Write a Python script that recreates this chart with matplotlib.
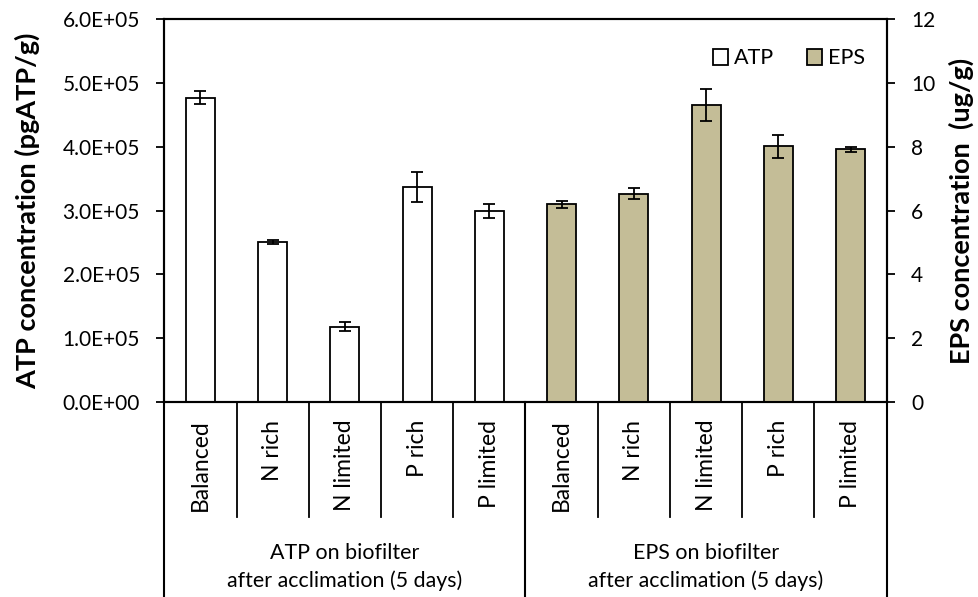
import numpy as np
import matplotlib
matplotlib.use("Agg")
import matplotlib.pyplot as plt
from matplotlib.ticker import FuncFormatter, MultipleLocator
import matplotlib.transforms as mtransforms

plt.rcParams['font.family'] = ['Lato', 'DejaVu Sans']

# data
conditions = ['Balanced', 'N rich', 'N limited', 'P rich', 'P limited']
atp = [4.77e5, 2.51e5, 1.18e5, 3.37e5, 2.99e5]
atp_err = [1.0e4, 3.0e3, 7.0e3, 2.4e4, 1.15e4]
eps = [6.19, 6.53, 9.31, 8.01, 7.92]
eps_err = [0.12, 0.18, 0.49, 0.36, 0.07]
groups = ['ATP on biofilter\nafter acclimation (5 days)',
          'EPS on biofilter\nafter acclimation (5 days)']

x_atp = np.arange(5)
x_eps = np.arange(5, 10)

fig = plt.figure(figsize=(9.79, 5.97), dpi=100)
ax = fig.add_axes([0.1678, 0.3271, 0.7379, 0.6406])
ax2 = ax.twinx()

err_kw = dict(ecolor='black', elinewidth=1.3, capsize=4.5, capthick=1.3)
b1 = ax.bar(x_atp, atp, 0.4, yerr=atp_err, color='white', edgecolor='black',
            linewidth=1.3, error_kw=err_kw, label='ATP')
b2 = ax2.bar(x_eps, eps, 0.4, yerr=eps_err, color='#C4BD97', edgecolor='black',
             linewidth=1.3, error_kw=err_kw, label='EPS')

ax.set_xlim(-0.5, 9.5)
ax.set_ylim(0, 6e5)
ax2.set_ylim(0, 12)
ax.yaxis.set_major_locator(MultipleLocator(1e5))
ax.yaxis.set_major_formatter(FuncFormatter(lambda v, p: f"{v:.1E}"))
ax2.yaxis.set_major_locator(MultipleLocator(2))
ax.set_xticks([])

for a in (ax, ax2):
    a.tick_params(axis='y', direction='out', length=5.5, width=1.3,
                  labelsize=15, pad=12)
    for s in a.spines.values():
        s.set_linewidth(1.5)

ax.set_ylabel('ATP concentration (pgATP/g)', fontsize=19.5, fontweight='bold',
              labelpad=16)
ax2.set_ylabel('EPS concentration  (ug/g)', fontsize=19.5, fontweight='bold',
               labelpad=10)

# category table below the axis
trans = mtransforms.blended_transform_factory(ax.transData, ax.transAxes)
for i, name in enumerate(conditions + conditions):
    ax.text(i, -0.047, name, transform=trans, rotation=90, ha='center',
            va='top', fontsize=16.5)
for xv in [0.5, 1.5, 2.5, 3.5, 5.5, 6.5, 7.5, 8.5]:
    ax.plot([xv, xv], [0, -0.3007], transform=trans, color='black', lw=1.3,
            clip_on=False)
for xv in [-0.5, 4.5, 9.5]:
    ax.plot([xv, xv], [0, -0.52], transform=trans, color='black', lw=1.5,
            clip_on=False)
for xg, g in zip([2, 7], groups):
    ax.text(xg, -0.4328, g, transform=trans, ha='center', va='center',
            fontsize=15.4, linespacing=1.45)

ax2.legend([b1, b2], ['ATP', 'EPS'], ncol=2, frameon=False, fontsize=15.5,
           loc='upper left', bbox_to_anchor=(0.717, 0.937),
           bbox_transform=fig.transFigure, borderpad=0, handlelength=0.7,
           handleheight=0.75, handletextpad=0.3, columnspacing=1.5)

fig.savefig('out.png', dpi=100)
